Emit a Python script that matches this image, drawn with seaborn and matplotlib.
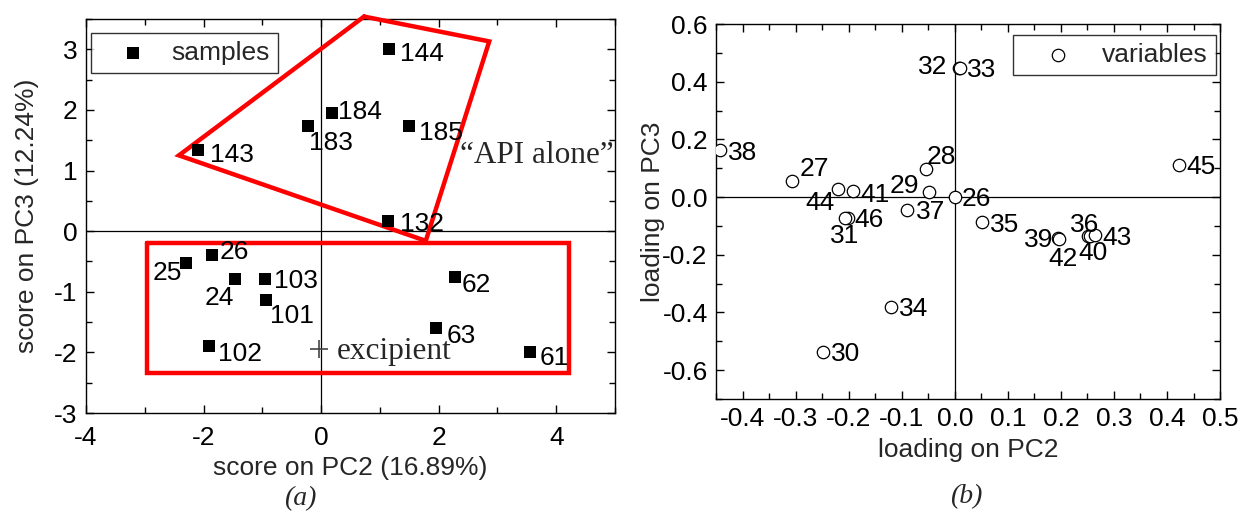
import matplotlib
matplotlib.use("Agg")
import matplotlib.pyplot as plt
import seaborn as sns
import pandas as pd
from matplotlib.ticker import MultipleLocator, FormatStrFormatter

# ---------------- data: panel (a) scores ----------------
sample_ids = ["144", "184", "183", "185", "143", "132", "26", "25", "24",
              "103", "101", "102", "62", "63", "61"]
pc2_scores = [1.15, 0.18, -0.22, 1.49, -2.10, 1.14, -1.85, -2.30, -1.46,
              -0.96, -0.93, -1.91, 2.27, 1.96, 3.55]
pc3_scores = [3.00, 1.95, 1.73, 1.73, 1.34, 0.17, -0.40, -0.53, -0.79,
              -0.79, -1.14, -1.90, -0.75, -1.59, -1.99]
excipient_pc2 = [-0.04]
excipient_pc3 = [-1.95]
api_group_pc2 = [0.73, 2.86, 1.78, -2.42, 0.73]
api_group_pc3 = [3.54, 3.13, -0.16, 1.25, 3.54]
excip_group_pc2 = [-2.96, 4.21, 4.21, -2.96, -2.96]
excip_group_pc3 = [-0.19, -0.19, -2.34, -2.34, -0.19]

# ---------------- data: panel (b) loadings ----------------
var_ids = ["38", "27", "44", "41", "28", "29", "26", "32", "33", "37", "46",
           "31", "35", "39", "42", "36", "40", "43", "34", "30", "45"]
pc2_loadings = [-0.442, -0.306, -0.220, -0.192, -0.055, -0.049, 0.000, 0.008,
                0.010, -0.091, -0.201, -0.207, 0.052, 0.195, 0.196, 0.252,
                0.255, 0.264, -0.121, -0.249, 0.423]
pc3_loadings = [0.162, 0.055, 0.027, 0.022, 0.096, 0.017, 0.000, 0.448,
                0.447, -0.045, -0.072, -0.074, -0.085, -0.143, -0.144, -0.134,
                -0.136, -0.132, -0.381, -0.536, 0.111]

# label placement (pixel offsets: dx right, dy down from point to label centre)
score_label_pos = {
    "144": (11, 3, "left"), "184": (6, -3, "left"), "183": (1, 15, "left"),
    "185": (10, 5, "left"), "143": (12, 3, "left"), "132": (12, 1, "left"),
    "26": (7, -5, "left"), "25": (-4, 8, "right"), "24": (-1, 17, "right"),
    "103": (9, 0, "left"), "101": (4, 14, "left"), "102": (9, 6, "left"),
    "62": (7, 6, "left"), "63": (10, 6, "left"), "61": (10, 4, "left"),
}
load_label_pos = {
    "38": (8, 1, "left"), "27": (7, -14, "left"), "44": (-3, 12, "right"),
    "41": (7, 2, "left"), "28": (1, -14, "left"), "29": (-10, -8, "right"),
    "26": (7, 0, "left"), "32": (-12, -3, "right"), "33": (7, 0, "left"),
    "37": (9, 0, "left"), "46": (6, 0, "left"), "31": (0, 16, "center"),
    "35": (8, 1, "left"), "39": (-5, 0, "right"), "42": (4, 18, "center"),
    "36": (-4, -13, "center"), "40": (3, 15, "center"), "43": (8, 1, "left"),
    "34": (8, 0, "left"), "30": (8, 0, "left"), "45": (7, 0, "left"),
}

sns.set_style("ticks")
plt.rcParams["font.family"] = ["Liberation Sans", "DejaVu Sans"]
plt.rcParams["axes.linewidth"] = 1.0
plt.rcParams["axes.unicode_minus"] = False

FS = 19
SERIF = ["Liberation Serif", "DejaVu Serif"]

fig = plt.figure(figsize=(12.47, 5.16), dpi=100)
ax1 = fig.add_axes([0.0690, 0.1996, 0.4242, 0.7636])
ax2 = fig.add_axes([0.5742, 0.2267, 0.4042, 0.7267])

scores = pd.DataFrame({"id": sample_ids, "PC2": pc2_scores, "PC3": pc3_scores})
loads = pd.DataFrame({"id": var_ids, "PC2": pc2_loadings, "PC3": pc3_loadings})


def style_axes(ax):
    ax.tick_params(which="both", direction="in", top=True, right=True,
                   labelsize=FS, width=1.0, colors="black")
    ax.tick_params(which="major", length=6, pad=6)
    ax.tick_params(which="minor", length=4)
    for s in ax.spines.values():
        s.set_visible(True)
        s.set_color("black")
        s.set_linewidth(1.0)
    ax.axhline(0, color="black", lw=0.9, zorder=1)
    ax.axvline(0, color="black", lw=0.9, zorder=1)


def label_points(ax, df, pos):
    for _, r in df.iterrows():
        dx, dy, ha = pos[r["id"]]
        ax.annotate(r["id"], (r["PC2"], r["PC3"]), xytext=(dx, -(dy + 9)),
                    textcoords="offset pixels", ha=ha, va="baseline",
                    fontsize=FS, color="black", zorder=5)


# ---------------- panel (a) ----------------
sns.scatterplot(data=scores, x="PC2", y="PC3", ax=ax1, marker="s", s=70,
                color="black", edgecolor="black", linewidth=0, label="samples",
                zorder=4)
ax1.scatter(excipient_pc2, excipient_pc3, marker="+", s=170, color="#444444",
            linewidths=1.2, zorder=4)
ax1.plot(api_group_pc2, api_group_pc3, color="#ff0000", lw=3.2,
         solid_joinstyle="miter", clip_on=False, zorder=3)
ax1.plot(excip_group_pc2, excip_group_pc3, color="#ff0000", lw=3.2,
         solid_joinstyle="miter", clip_on=False, zorder=3)
ax1.set_xlim(-4, 5)
ax1.set_ylim(-3, 3.5)
ax1.xaxis.set_major_locator(MultipleLocator(2))
ax1.xaxis.set_minor_locator(MultipleLocator(1))
ax1.yaxis.set_major_locator(MultipleLocator(1))
ax1.yaxis.set_minor_locator(MultipleLocator(0.5))
style_axes(ax1)
ax1.tick_params(axis="x", which="major", pad=9)
label_points(ax1, scores, score_label_pos)
ax1.text(2.37, 1.25, "\u201cAPI alone\u201d", family=SERIF, fontsize=22.5,
         ha="left", va="center", zorder=5)
ax1.text(0.26, -1.98, "excipient", family=SERIF, fontsize=22.5,
         ha="left", va="center", zorder=5)
ax1.set_xlabel("score on PC2 (16.89%)", fontsize=FS, labelpad=5)
ax1.set_ylabel("score on PC3 (12.24%)", fontsize=FS)
ax1.yaxis.set_label_coords(-0.089, 0.5)
leg1 = ax1.legend(loc="upper left", bbox_to_anchor=(0.0095, 0.9645),
                  borderaxespad=0, fontsize=FS, frameon=True, fancybox=False,
                  edgecolor="black", handlelength=2.6, handletextpad=0.15,
                  borderpad=0.3, markerscale=1.0)
leg1.get_frame().set_linewidth(1.0)

# ---------------- panel (b) ----------------
sns.scatterplot(data=loads, x="PC2", y="PC3", ax=ax2, marker="o", s=80,
                facecolor="white", edgecolor="black", linewidth=0.9,
                label="variables", zorder=4)
ax2.set_xlim(-0.45, 0.5)
ax2.set_ylim(-0.7, 0.6)
ax2.xaxis.set_major_locator(MultipleLocator(0.1))
ax2.xaxis.set_minor_locator(MultipleLocator(0.05))
ax2.yaxis.set_major_locator(MultipleLocator(0.2))
ax2.yaxis.set_minor_locator(MultipleLocator(0.1))
style_axes(ax2)
ax2.xaxis.set_major_formatter(FormatStrFormatter("%.1f"))
ax2.yaxis.set_major_formatter(FormatStrFormatter("%.1f"))
label_points(ax2, loads, load_label_pos)
ax2.set_xlabel("loading on PC2", fontsize=FS, labelpad=5)
ax2.set_ylabel("loading on PC3", fontsize=FS)
ax2.yaxis.set_label_coords(-0.102, 0.5)
leg2 = ax2.legend(loc="upper right", bbox_to_anchor=(0.992, 0.9707),
                  borderaxespad=0, fontsize=FS, frameon=True, fancybox=False,
                  edgecolor="black", handlelength=2.8, handletextpad=0.3,
                  borderpad=0.3, markerscale=1.0)
leg2.get_frame().set_linewidth(1.0)

fig.text(300 / 1247, 1 - 499 / 516, "(a)", family=SERIF, style="italic",
         fontsize=20, ha="center", va="center")
fig.text(966 / 1247, 1 - 497 / 516, "(b)", family=SERIF, style="italic",
         fontsize=20, ha="center", va="center")

fig.savefig("out.png", dpi=100)
